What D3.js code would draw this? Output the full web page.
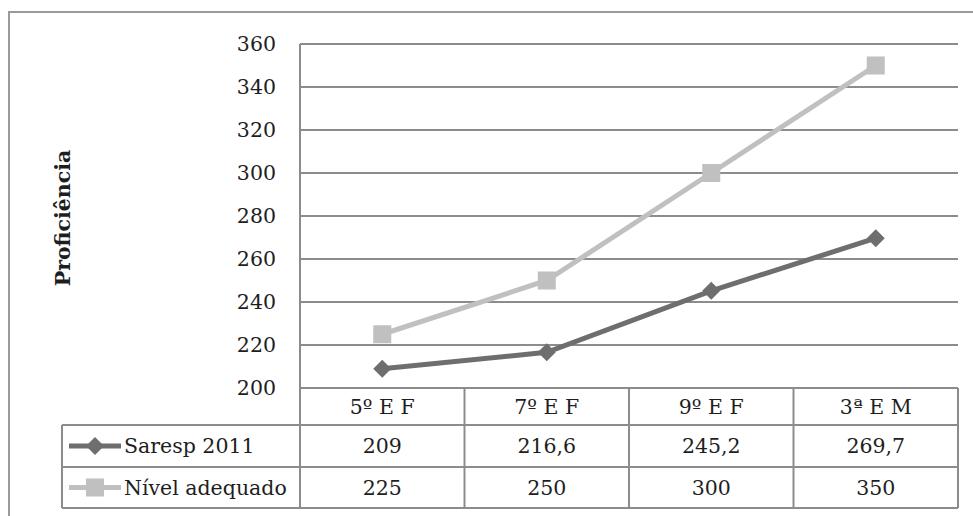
<!DOCTYPE html>
<html>
<head>
<meta charset="utf-8">
<script src="https://cdn.jsdelivr.net/npm/d3@7"></script>
<style>
    body { margin: 0; background: #fff; }
    text { font-family: "DejaVu Serif", "Liberation Serif", serif; fill: #1e1e1e; }
</style>
</head>
<body>
<div id="chart"></div>
<script>
// data
var categories = ["5º E F", "7º E F", "9º E F", "3ª E M"];
var saresp = [209, 216.6, 245.2, 269.7];
var nivel = [225, 250, 300, 350];
var seriesNames = ["Saresp 2011", "Nível adequado"];
var seriesLabels = [["209", "216,6", "245,2", "269,7"], ["225", "250", "300", "350"]];
var yTicks = [200, 220, 240, 260, 280, 300, 320, 340, 360];

var svgWidth = 973;
var svgHeight = 516;
var plot = { left: 300, right: 958, top: 44, bottom: 388 };
var rowH = [37, 42, 41];
var tableLeft = 62;
var gridColor = "#8c8c8c";
var darkColor = "#6e6e6e";
var lightColor = "#c0c0c0";
var fontSize = "20.5px";

var svg = d3.select("#chart")
    .append("svg")
    .attr("width", svgWidth)
    .attr("height", svgHeight);

// outer frame
svg.append("rect")
    .attr("x", 9).attr("y", 12)
    .attr("width", 980).attr("height", 520)
    .attr("fill", "none")
    .attr("stroke", "#9a9a9a")
    .attr("stroke-width", 2);

var xScale = d3.scaleBand()
    .domain(categories)
    .range([plot.left, plot.right])
    .padding(0);
var yScale = d3.scaleLinear()
    .domain([200, 360])
    .range([plot.bottom, plot.top]);
var cx = d => xScale(d) + xScale.bandwidth() / 2;

// diamond marker (square turned 45deg)
function diamond(r) {
    return `M0,${-r}L${r},0L0,${r}L${-r},0Z`;
}

// gridlines
svg.append("g")
    .selectAll("line")
    .data(yTicks)
    .enter().append("line")
    .attr("x1", plot.left).attr("x2", plot.right)
    .attr("y1", d => yScale(d)).attr("y2", d => yScale(d))
    .attr("stroke", gridColor)
    .attr("stroke-width", 2);

// y axis labels
var leftAxis = d3.axisLeft(yScale).tickValues(yTicks).tickSize(0).tickPadding(24);
var yAxisG = svg.append("g")
    .attr("transform", `translate(${plot.left}, 0)`)
    .call(leftAxis);
yAxisG.select(".domain").remove();
yAxisG.selectAll("text")
    .style("font-family", '"DejaVu Serif", serif')
    .style("font-size", fontSize)
    .attr("fill", "#1e1e1e");

svg.append("text")
    .attr("transform", "translate(70, 218) rotate(-90)")
    .attr("text-anchor", "middle")
    .style("font-size", "20.5px")
    .style("font-weight", "bold")
    .text("Proficiência");

// table
var y0 = plot.bottom;
var y1 = y0 + rowH[0];
var y2 = y1 + rowH[1];
var y3 = y2 + rowH[2];
var tbl = svg.append("g");
var hl = [[plot.left, plot.right, y1], [tableLeft, plot.right, y1], [tableLeft, plot.right, y2], [tableLeft, plot.right, y3]];
tbl.selectAll("line.h")
    .data(hl)
    .enter().append("line")
    .attr("x1", d => d[0]).attr("x2", d => d[1])
    .attr("y1", d => d[2]).attr("y2", d => d[2])
    .attr("stroke", gridColor).attr("stroke-width", 2);
var vx = categories.map(c => xScale(c)).concat([plot.right]);
tbl.selectAll("line.v")
    .data(vx)
    .enter().append("line")
    .attr("x1", d => d).attr("x2", d => d)
    .attr("y1", (d, i) => i === 0 ? plot.top : y0)
    .attr("y2", y3)
    .attr("stroke", gridColor).attr("stroke-width", 2);
tbl.append("line")
    .attr("x1", tableLeft).attr("x2", tableLeft)
    .attr("y1", y1).attr("y2", y3)
    .attr("stroke", gridColor).attr("stroke-width", 2);

tbl.selectAll("text.cat")
    .data(categories)
    .enter().append("text")
    .attr("x", d => cx(d))
    .attr("y", (y0 + y1) / 2 + 7)
    .attr("text-anchor", "middle")
    .style("font-size", fontSize)
    .text(d => d);

[y1, y2].forEach(function(yy, r) {
    var mid = yy + rowH[r + 1] / 2 + 7;
    tbl.selectAll("text.v" + r)
        .data(seriesLabels[r])
        .enter().append("text")
        .attr("x", (d, i) => cx(categories[i]))
        .attr("y", mid)
        .attr("text-anchor", "middle")
        .style("font-size", fontSize)
        .text(d => d);
    tbl.append("text")
        .attr("x", 124)
        .attr("y", mid)
        .style("font-size", fontSize)
        .text(seriesNames[r]);
    var col = r === 0 ? darkColor : lightColor;
    var lm = yy + rowH[r + 1] / 2;
    tbl.append("line")
        .attr("x1", 69).attr("x2", 121)
        .attr("y1", lm).attr("y2", lm)
        .attr("stroke", col).attr("stroke-width", 5);
    if (r === 0) {
        tbl.append("path")
            .attr("d", diamond(9))
            .attr("transform", `translate(95, ${lm})`)
            .attr("fill", col);
    } else {
        tbl.append("rect")
            .attr("x", 86).attr("y", lm - 9)
            .attr("width", 18).attr("height", 18)
            .attr("fill", col);
    }
});

// lines
var line_gen1 = d3.line()
    .x((d, i) => cx(categories[i]))
    .y(d => yScale(d));
svg.append("path")
    .attr("d", line_gen1(nivel))
    .attr("fill", "none")
    .attr("stroke", lightColor)
    .attr("stroke-width", 5);
svg.append("path")
    .attr("d", line_gen1(saresp))
    .attr("fill", "none")
    .attr("stroke", darkColor)
    .attr("stroke-width", 5);

svg.append("g")
    .selectAll("rect")
    .data(nivel)
    .enter().append("rect")
    .attr("x", (d, i) => cx(categories[i]) - 9)
    .attr("y", d => yScale(d) - 9)
    .attr("width", 18).attr("height", 18)
    .attr("fill", lightColor);
svg.append("g")
    .selectAll("path")
    .data(saresp)
    .enter().append("path")
    .attr("d", diamond(9))
    .attr("transform", (d, i) => `translate(${cx(categories[i])}, ${yScale(d)})`)
    .attr("fill", darkColor);
</script>
</body>
</html>
